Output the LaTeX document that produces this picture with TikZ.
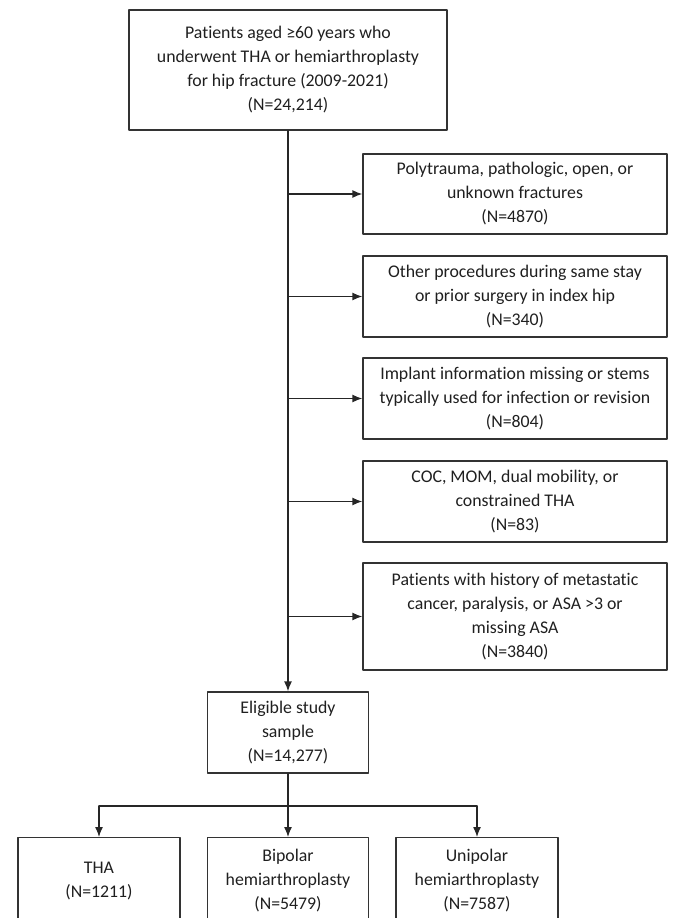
\documentclass[tikz,border=0pt]{standalone}
\usepackage{fontspec}
\setmainfont{Carlito}[Ligatures=NoCommon]
\usepackage{tikz}
\usetikzlibrary{arrows.meta,calc}

\tikzset{
  flowbox/.style={draw=black!80, line width=1.3pt, align=center, inner sep=0pt,
    font=\fontsize{17.8}{24}\selectfont, text=black!88},
  flowarrow/.style={draw=black!85, line width=1.3pt, -{Latex[length=10pt,width=8pt]}},
  flowline/.style={draw=black!85, line width=1.3pt}
}

\begin{document}
\begin{tikzpicture}[x=1pt, y=-1pt, line cap=round, line join=round]
            \useasboundingbox (0,0) rectangle (672,918);

            % main column
            \node[flowbox, minimum width=318pt, minimum height=120pt] (start) at (288,70)
              {Patients aged ≥60 years who\\underwent THA or hemiarthroplasty\\for hip fracture (2009-2021)\\(N=24,214)};
            \node[flowbox, minimum width=161pt, minimum height=81pt] (elig) at (288,732.5)
              {Eligible study\\sample\\(N=14,277)};

            % exclusions
            \node[flowbox, minimum width=304pt, minimum height=80pt] (exA) at (515,194)
              {Polytrauma, pathologic, open, or\\unknown fractures\\(N=4870)};
            \node[flowbox, minimum width=304pt, minimum height=81pt] (exB) at (515,296.5)
              {Other procedures during same stay\\or prior surgery in index hip\\(N=340)};
            \node[flowbox, minimum width=304pt, minimum height=81pt] (exC) at (515,398.5)
              {Implant information missing or stems\\typically used for infection or revision\\(N=804)};
            \node[flowbox, minimum width=304pt, minimum height=81pt] (exD) at (515,501.5)
              {COC, MOM, dual mobility, or\\constrained THA\\(N=83)};
            \node[flowbox, minimum width=304pt, minimum height=107pt] (exE) at (515,616.5)
              {Patients with history of metastatic\\cancer, paralysis, or ASA >3 or\\missing ASA\\(N=3840)};

            % groups
            \node[flowbox, minimum width=162pt, minimum height=86pt, anchor=north] (tha) at (99,837)
              {THA\\(N=1211)};
            \node[flowbox, minimum width=161pt, minimum height=86pt, anchor=north] (bip) at (288,837)
              {Bipolar\\hemiarthroplasty\\(N=5479)};
            \node[flowbox, minimum width=162pt, minimum height=86pt, anchor=north] (uni) at (477,837)
              {Unipolar\\hemiarthroplasty\\(N=7587)};

            \coordinate (split) at (288,806);

            \draw[flowarrow] (start.south) -- (elig.north);
            \foreach \ex in {exA,exB,exC,exD,exE}
              \draw[flowarrow] (start.south |- \ex.west) -- (\ex.west);

            \draw[flowarrow] (elig.south) -- (bip.north);
            \draw[flowline] (tha.north |- split) -- (uni.north |- split);
            \draw[flowarrow] (tha.north |- split) -- (tha.north);
            \draw[flowarrow] (uni.north |- split) -- (uni.north);

        \end{tikzpicture}
\end{document}
